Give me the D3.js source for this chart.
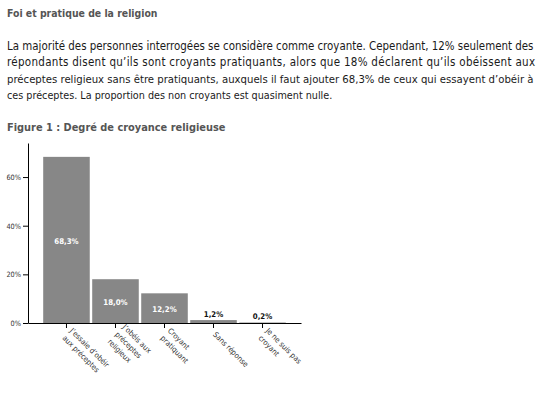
<!DOCTYPE html>
<html><head><meta charset="utf-8">
<script src="https://cdn.jsdelivr.net/npm/d3@7"></script>
<style>
html,body{margin:0;padding:0;background:#fff;}
svg{display:block;}
</style></head>
<body>
<svg id="c" width="543" height="399"></svg>
<script>
const pageTitle = "Foi et pratique de la religion";
const paragraphLines = [
  "La majorité des personnes interrogées se considère comme croyante. Cependant, 12% seulement des",
  "répondants disent qu’ils sont croyants pratiquants, alors que 18% déclarent qu’ils obéissent aux",
  "préceptes religieux sans être pratiquants, auxquels il faut ajouter 68,3% de ceux qui essayent d’obéir à",
  "ces préceptes. La proportion des non croyants est quasiment nulle."
];
const figureTitle = "Figure 1 : Degré de croyance religieuse";
const categories = [
  "J’essaie d’obéir\naux préceptes",
  "J’obéis aux\npréceptes\nreligieux",
  "Croyant\npratiquant",
  "Sans réponse",
  "Je ne suis pas\ncroyant"
];
const values = [68.3, 18.0, 12.2, 1.2, 0.2];
const valueLabels = ["68,3%", "18,0%", "12,2%", "1,2%", "0,2%"];
const yTicks = [0, 20, 40, 60];

const svg = d3.select("#c");
const FONT = "'DejaVu Sans Condensed','DejaVu Sans',Verdana,sans-serif";

function fitText(sel, target, baseSize, justify) {
  sel.attr("font-size", baseSize);
  const w = sel.node().getComputedTextLength();
  if (w > target) {
    sel.attr("font-size", baseSize * target / w * 0.998);
  } else if (justify) {
    sel.attr("textLength", target).attr("lengthAdjust", "spacing");
  }
}

// Title
const t1 = svg.append("text").attr("x", 7).attr("y", 17)
  .attr("font-family", FONT).attr("font-weight", "bold")
  .attr("fill", "#555").text(pageTitle);
fitText(t1, 151, 11.5, false);

// Paragraph
const pLen = [528, 528, 528, 326];
paragraphLines.forEach((line, i) => {
  const t = svg.append("text")
    .attr("x", 7).attr("y", 49.5 + i * 16.5)
    .attr("font-family", FONT).attr("fill", "#1a1a1a")
    .text(line);
  fitText(t, pLen[i], 11.5, i < 3);
});

// Figure title
const t2 = svg.append("text").attr("x", 7).attr("y", 131)
  .attr("font-family", FONT).attr("font-weight", "bold")
  .attr("fill", "#555").text(figureTitle);
fitText(t2, 219, 11.5, false);

// Chart
const x = d3.scaleBand().domain(categories).range([28, 301])
  .paddingInner(0.05).paddingOuter(0.31);
const y = d3.scaleLinear().domain([0, 74]).range([323, 143]);

const g = svg.append("g");

g.selectAll("rect.bar").data(values).enter().append("rect")
  .attr("class", "bar")
  .attr("x", (d, i) => x(categories[i]))
  .attr("width", x.bandwidth())
  .attr("y", d => y(d))
  .attr("height", d => y(0) - y(d))
  .attr("fill", "#878787");

g.selectAll("text.val").data(values).enter().append("text")
  .attr("class", "val")
  .attr("x", (d, i) => x(categories[i]) + x.bandwidth() / 2)
  .attr("y", d => d > 5 ? (y(d) + y(0)) / 2 + 1 : y(d) - 6)
  .attr("dy", "0.35em")
  .attr("text-anchor", "middle")
  .attr("font-family", FONT).attr("font-weight", "bold").attr("font-size", 7.8)
  .attr("fill", d => d > 5 ? "#fff" : "#111")
  .text((d, i) => valueLabels[i]);

// Y axis
const yAxis = g.append("g").attr("transform", "translate(28,0)")
  .call(d3.axisLeft(y).tickValues(yTicks).tickFormat(d => d + "%").tickSize(5).tickSizeOuter(0).tickPadding(2));
yAxis.select(".domain").attr("stroke", "#000");
yAxis.selectAll(".tick line").attr("stroke", "#000");
yAxis.selectAll(".tick text").attr("font-family", FONT).attr("font-size", 7.3).attr("fill", "#333");

// X axis
const xAxis = g.append("g").attr("transform", "translate(0,323)")
  .call(d3.axisBottom(x).tickSize(5).tickSizeOuter(0).tickFormat(""));
xAxis.select(".domain").attr("stroke", "#000");
xAxis.selectAll(".tick line").attr("stroke", "#000");
xAxis.selectAll(".tick text").remove();

const lh = 10.5;
xAxis.selectAll(".tick").each(function(d) {
  const lines = d.split("\n");
  const t = d3.select(this).append("text")
    .attr("transform", "translate(1,10) rotate(45)")
    .attr("text-anchor", "start")
    .attr("font-family", FONT).attr("font-size", 7.6).attr("fill", "#333");
  lines.forEach((ln, k) => {
    t.append("tspan").attr("x", 0)
      .attr("y", (k - (lines.length - 1) / 2) * lh)
      .attr("dy", "0.35em").text(ln);
  });
});
</script>
</body></html>
